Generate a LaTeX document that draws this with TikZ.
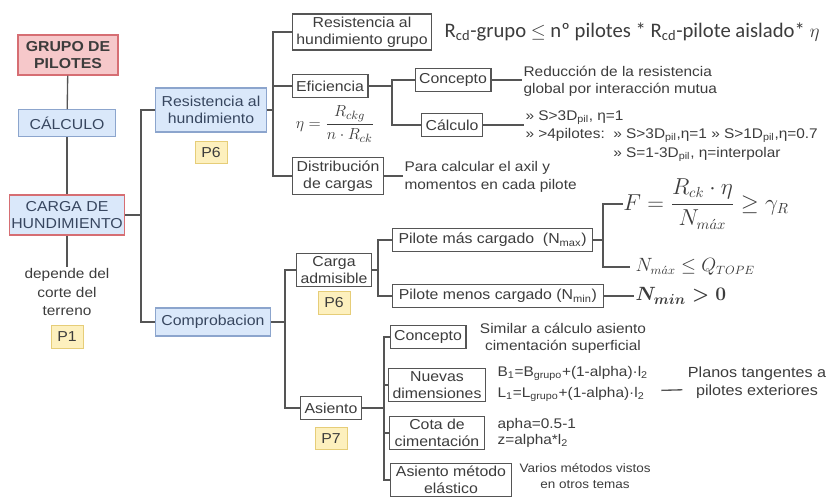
\documentclass[tikz,border=0pt]{standalone}
\usepackage{amsmath}
\usepackage{fontspec}
\setmainfont{Liberation Sans}[FakeStretch=1.1]
\newfontfamily\formfont{Carlito}
\usepackage{xcolor}
\usetikzlibrary{positioning}
\definecolor{rootfill}{RGB}{246, 200, 202}
\definecolor{rootline}{RGB}{214, 110, 115}
\definecolor{topicfill}{RGB}{218, 232, 250}
\definecolor{topicline}{RGB}{140, 165, 205}
\definecolor{tagfill}{RGB}{253, 240, 190}
\definecolor{tagline}{RGB}{230, 205, 120}
\definecolor{linkgray}{RGB}{85, 85, 85}
\definecolor{textgray}{RGB}{60, 60, 60}
\definecolor{topictext}{RGB}{55, 70, 95}

\begin{document}
\begin{tikzpicture}[
    x=0.75pt, y=-0.75pt,
    font=\fontsize{10.8}{13}\selectfont,
    root/.style={draw=rootline, fill=rootfill, line width=0.9pt, font=\fontsize{10.8}{13}\selectfont\bfseries, text=textgray, align=center, minimum width=75pt, minimum height=30pt},
    topic/.style={draw=topicline, fill=topicfill, line width=0.9pt, text=topictext, align=center, inner xsep=4.5pt, inner ysep=2.5pt, minimum height=21pt},
    leaf/.style={draw=linkgray, fill=white, line width=0.9pt, text=textgray, align=center, inner xsep=3pt, inner ysep=2pt, minimum height=17pt},
    tag/.style={draw=tagline, fill=tagfill, line width=0.6pt, text=textgray, minimum width=24pt, minimum height=17pt, inner sep=1pt},
    note/.style={font=\fontsize{10.5}{14}\selectfont, text=textgray, align=left, inner sep=1pt},
    link/.style={linkgray, line width=1pt}
]
    \useasboundingbox (0,0) rectangle (834,497);

    % Nodes - left column
    \node[root] (grupo) at (68,55) {GRUPO DE\\PILOTES};
    \node[topic, minimum width=73pt, minimum height=20pt] (calculo) at (67,123) {CÁLCULO};
    \node[topic, draw=rootline, inner xsep=1.5pt, minimum height=30pt] (carga) at (67,215) {CARGA DE\\HUNDIMIENTO};
    \node[note, align=center] (corte) at (67,292) {depende del\\corte del\\terreno};
    \node[tag] (p1) at (67,337) {P1};

    % Nodes - first level
    \node[topic, minimum height=33pt] (resist) at (211,110) {Resistencia al\\hundimiento};
    \node[tag, below=6pt of resist] (p6a) {P6};
    \node[topic] (comprob) at (213,322) {Comprobacion};

    % Nodes - resistencia
    \node[leaf] (grupores) at (362,32) {Resistencia al\\hundimiento grupo};
    \node[leaf] (efic) at (330,86) {Eficiencia};
    \node[leaf] (distrib) at (338,176) {Distribución\\de cargas};
    \node[text=textgray, inner sep=1pt] (eta) at (335,124) {\fontsize{13}{15}\selectfont$\eta = \dfrac{R_{ckg}}{n\cdot R_{ck}}$};
    \node[anchor=west, text=textgray, font=\formfont\fontsize{15.5}{17}\selectfont] (regla) at (440,32) {R\textsubscript{cd}-grupo $\leq$ nº pilotes * R\textsubscript{cd}-pilote aislado* $\eta$};
    \node[leaf] (concepto) at (453,80) {Concepto};
    \node[leaf] (calc) at (452,125) {Cálculo};
    \node[note, anchor=west, font=\fontsize{10.5}{12.5}\selectfont] (reduc) at (522,81) {Reducción de la resistencia\\global por interacción mutua};
    \node[note, anchor=west] (calctxt) at (524,135) {%
        \begin{tabular}{@{}l@{\ \ }l@{}}
        \multicolumn{2}{@{}l}{» S>3D\textsubscript{pil}, η=1}\\
        » >4pilotes: & » S>3D\textsubscript{pil},η=1 » S>1D\textsubscript{pil},η=0.7\\
        & » S=1-3D\textsubscript{pil}, η=interpolar
        \end{tabular}};
    \node[note, anchor=west] (axil) at (403,177) {Para calcular el axil y\\momentos en cada pilote};

    % Nodes - comprobacion
    \node[leaf] (admis) at (334,270) {Carga\\admisible};
    \node[tag, below=3pt of admis] (p6b) {P6};
    \node[leaf] (asiento) at (331,408) {Asiento};
    \node[tag, below=5pt of asiento] (p7) {P7};
    \node[leaf, anchor=west, minimum width=150pt] (pmas) at (392,240) {Pilote más cargado\ \ (N\textsubscript{max})};
    \node[leaf, anchor=west, minimum width=158pt] (pmenos) at (392,296) {Pilote menos cargado (N\textsubscript{min})};
    \node[text=textgray, inner sep=0pt] (fcheck) at (706,204) {\fontsize{16}{19}\selectfont$F = \dfrac{R_{ck}\cdot\eta}{N_{m\acute{a}x}} \geq \gamma_R$};
    \node[anchor=west, text=textgray, inner sep=1pt] (ntope) at (634,267) {\fontsize{13.5}{15}\selectfont$N_{m\acute{a}x} \leq Q_{TOPE}$};
    \node[anchor=west, text=textgray, inner sep=1pt] (nmin) at (634,296) {\fontsize{15}{18}\selectfont$\boldsymbol{N_{min} > 0}$};

    % Nodes - asiento
    \node[leaf] (concepto2) at (428,337) {Concepto};
    \node[note, align=center, font=\fontsize{10.5}{12.8}\selectfont] (similar) at (563,338) {Similar a cálculo asiento\\cimentación superficial};
    \node[leaf, minimum width=71pt] (nuevas) at (437,385) {Nuevas\\dimensiones};
    \node[note, anchor=west, font=\fontsize{10.5}{16}\selectfont] (dimtxt) at (496,384) {B\textsubscript{1}=B\textsubscript{grupo}+(1-alpha)·l\textsubscript{2}\\L\textsubscript{1}=L\textsubscript{grupo}+(1-alpha)·l\textsubscript{2}};
    \node[note, align=center, font=\fontsize{11}{13.5}\selectfont] (planos) at (757,383) {Planos tangentes a\\pilotes exteriores};
    \node[leaf, minimum width=71pt] (cota) at (437,433) {Cota de\\cimentación};
    \node[note, anchor=west, font=\fontsize{10.5}{12}\selectfont] (apha) at (496,433) {apha=0.5-1\\z=alpha*l\textsubscript{2}};
    \node[leaf, minimum width=91pt] (elastico) at (451,480) {Asiento método\\elástico};
    \node[note, anchor=west, align=center, font=\fontsize{9.2}{12}\selectfont] (varios) at (518,476) {Varios métodos vistos\\en otros temas};

    % Connectors - left column
    \draw[link] (grupo) -- (calculo);
    \draw[link] (calculo) -- (carga);
    \draw[link] (carga) -- (corte);
    \coordinate (j1) at (141,215);
    \draw[link] (carga.east) -- (j1);
    \draw[link] (resist.west) -| (j1) |- (comprob.west);

    % Connectors - resistencia
    \coordinate (j2) at (273,110);
    \draw[link] (resist.east) -- (j2);
    \draw[link] (grupores.west) -| (j2) |- (distrib.west);
    \draw[link] (efic.west) -- (efic.west -| j2);
    \coordinate (j3) at (392,86);
    \draw[link] (efic.east) -- (j3);
    \draw[link] (concepto.west) -| (j3) |- (calc.west);
    \draw[link] (concepto.east) -- (concepto.east -| reduc.west);
    \draw[link] (calc.east) -- (calc.east -| calctxt.west);
    \draw[link] (distrib.east) -- (distrib.east -| axil.west);

    % Connectors - comprobacion
    \coordinate (j4) at (285,322);
    \draw[link] (comprob.east) -- (j4);
    \draw[link] (admis.west) -| (j4) |- (asiento.west);
    \coordinate (j5) at (378,270);
    \draw[link] (admis.east) -- (j5);
    \draw[link] (pmas.west) -| (j5) |- (pmenos.west);
    \coordinate (j6) at (603,240);
    \draw[link] (pmas.east) -- (j6);
    \draw[link, shorten >=3pt] (fcheck.west) -| (j6) |- (ntope.west);
    \draw[link] (pmenos.east) -- (nmin.west);

    % Connectors - asiento
    \coordinate (j7) at (384,408);
    \draw[link] (asiento.east) -- (j7);
    \draw[link] (concepto2.west) -| (j7) |- (elastico.west);
    \draw[link] (nuevas.west) -- (nuevas.west -| j7);
    \draw[link] (cota.west) -- (cota.west -| j7);
    \draw[link, shorten <=9pt, shorten >=3pt] ([yshift=-5pt]dimtxt.east) -- ([yshift=-5pt]planos.west);
\end{tikzpicture}
\end{document}
